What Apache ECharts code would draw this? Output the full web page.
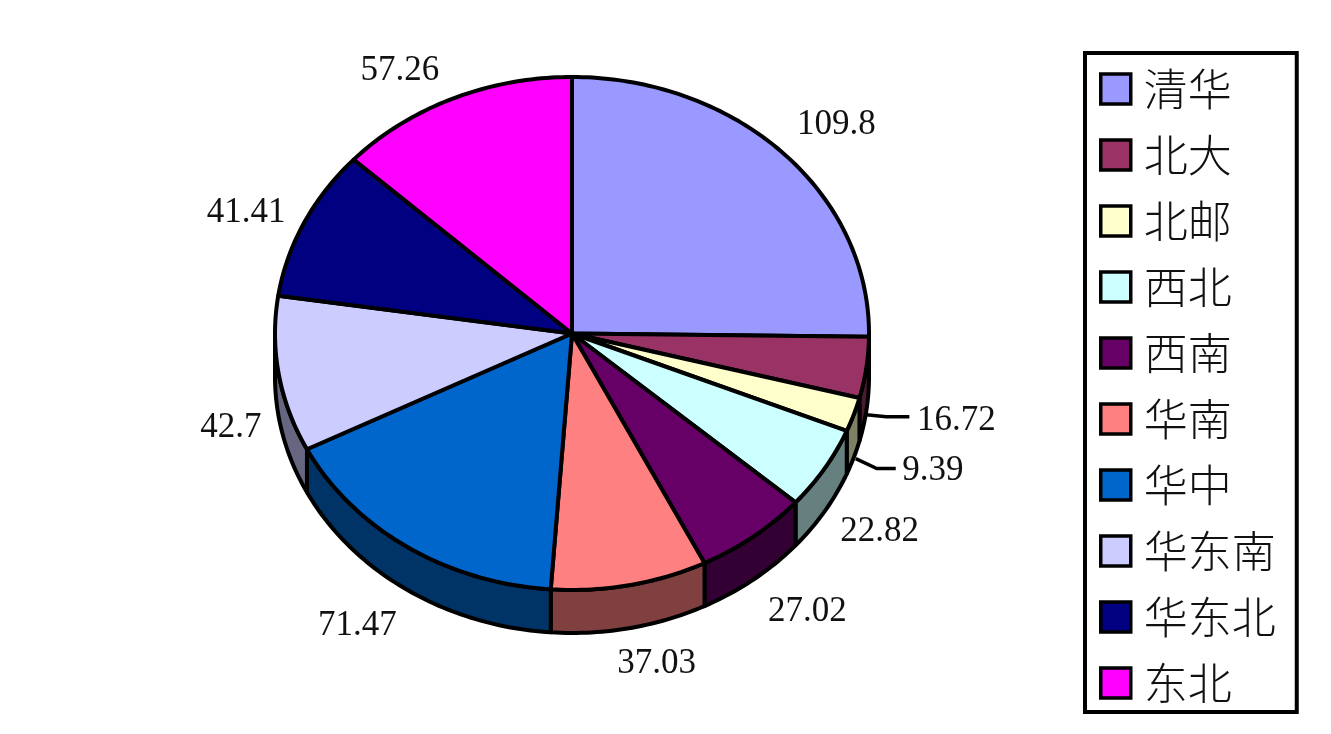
<!DOCTYPE html>
<html><head><meta charset="utf-8">
<style>html,body{margin:0;padding:0;background:#fff}#c{width:1331px;height:734px}</style>
<script src="https://cdn.jsdelivr.net/npm/echarts@6/dist/echarts.min.js"></script>
</head><body><div id="c"></div>
<script>
const categories = ['清华','北大','北邮','西北','西南','华南','华中','华东南','华东北','东北'];
const values = [109.8,16.72,9.39,22.82,27.02,37.03,71.47,42.7,41.41,57.26];
const labels = ['109.8','16.72','9.39','22.82','27.02','37.03','71.47','42.7','41.41','57.26'];
const topColors = ['#9999ff','#993366','#ffffcc','#ccffff','#660066','#ff8080','#0066cc','#ccccff','#000080','#ff00ff'];
const sideColors = ['#4d4d80','#4d1a33','#808066','#668080','#330033','#804040','#003366','#666680','#000040','#800080'];
const labelOffsets = [[53,-28],[90,53],[79,56],[55,63],[54,75],[27,79],[-50,79],[-48,53],[-58,-10],[-53,-28]];
const leaders = {1:[[0,47],[20,49],[43,49]], 2:[[2,44],[23,54],[42,54]]};

const pie = {cx:572, cy:333.5, rx:297, ry:256.5, depth:43, line:4};
const total = values.reduce((a,b)=>a+b,0);
const rim = (deg,dy=0)=>{const t=deg*Math.PI/180;return [pie.cx+pie.rx*Math.sin(t), pie.cy-pie.ry*Math.cos(t)+dy];};
function arc(a,b,dy=0){const n=Math.max(2,Math.ceil(Math.abs(b-a)));const p=[];for(let i=0;i<=n;i++)p.push(rim(a+(b-a)*i/n,dy));return p;}

let acc=0;
const spans=values.map(v=>{const s=acc/total*360;acc+=v;return [s,acc/total*360];});

function renderSlice(i){
  const [a,b]=spans[i];
  const kids=[];
  const sa=Math.max(a,90), sb=Math.min(b,270);
  if(sb>sa){
    kids.push({type:'polygon',shape:{points:arc(sa,sb).concat(arc(sb,sa,pie.depth))},
      style:{fill:sideColors[i],stroke:'#000',lineWidth:pie.line,lineJoin:'round'}});
  }
  kids.push({type:'polygon',shape:{points:[[pie.cx,pie.cy]].concat(arc(a,b))},
    style:{fill:topColors[i],stroke:'#000',lineWidth:pie.line,lineJoin:'round'}});
  const m=rim((a+b)/2);
  kids.push({type:'text',style:{x:m[0]+labelOffsets[i][0],y:m[1]+labelOffsets[i][1],text:labels[i],
    fill:'#111',font:'35px "Liberation Serif"',align:'center',verticalAlign:'middle'},z2:20});
  if(leaders[i]){
    kids.push({type:'polyline',shape:{points:leaders[i].map(o=>[m[0]+o[0],m[1]+o[1]])},
      style:{fill:'none',stroke:'#000',lineWidth:3.5},z2:20});
  }
  return {type:'group',children:kids};
}

const chart=echarts.init(document.getElementById('c'),null,{renderer:'canvas'});
chart.setOption({
  animation:false,
  backgroundColor:'#fff',
  legend:{
    orient:'vertical',left:1085,top:53,
    padding:[14,21,7,14],
    itemWidth:30,itemHeight:30,itemGap:22,
    borderColor:'#000',borderWidth:4,
    selectedMode:false,icon:'rect',
    textStyle:{fontFamily:'"Noto Sans CJK SC"',fontSize:44,color:'#111',fontWeight:300,padding:[0,0,0,8]},
    data:categories.map((n,i)=>({name:n,icon:'rect',itemStyle:{color:topColors[i],borderColor:'#000',borderWidth:3.5}}))
  },
  series:categories.map((n,i)=>({
    type:'custom',name:n,coordinateSystem:'none',silent:true,
    itemStyle:{color:topColors[i]},
    data:[values[i]],
    renderItem:()=>renderSlice(i)
  }))
});
</script></body></html>
